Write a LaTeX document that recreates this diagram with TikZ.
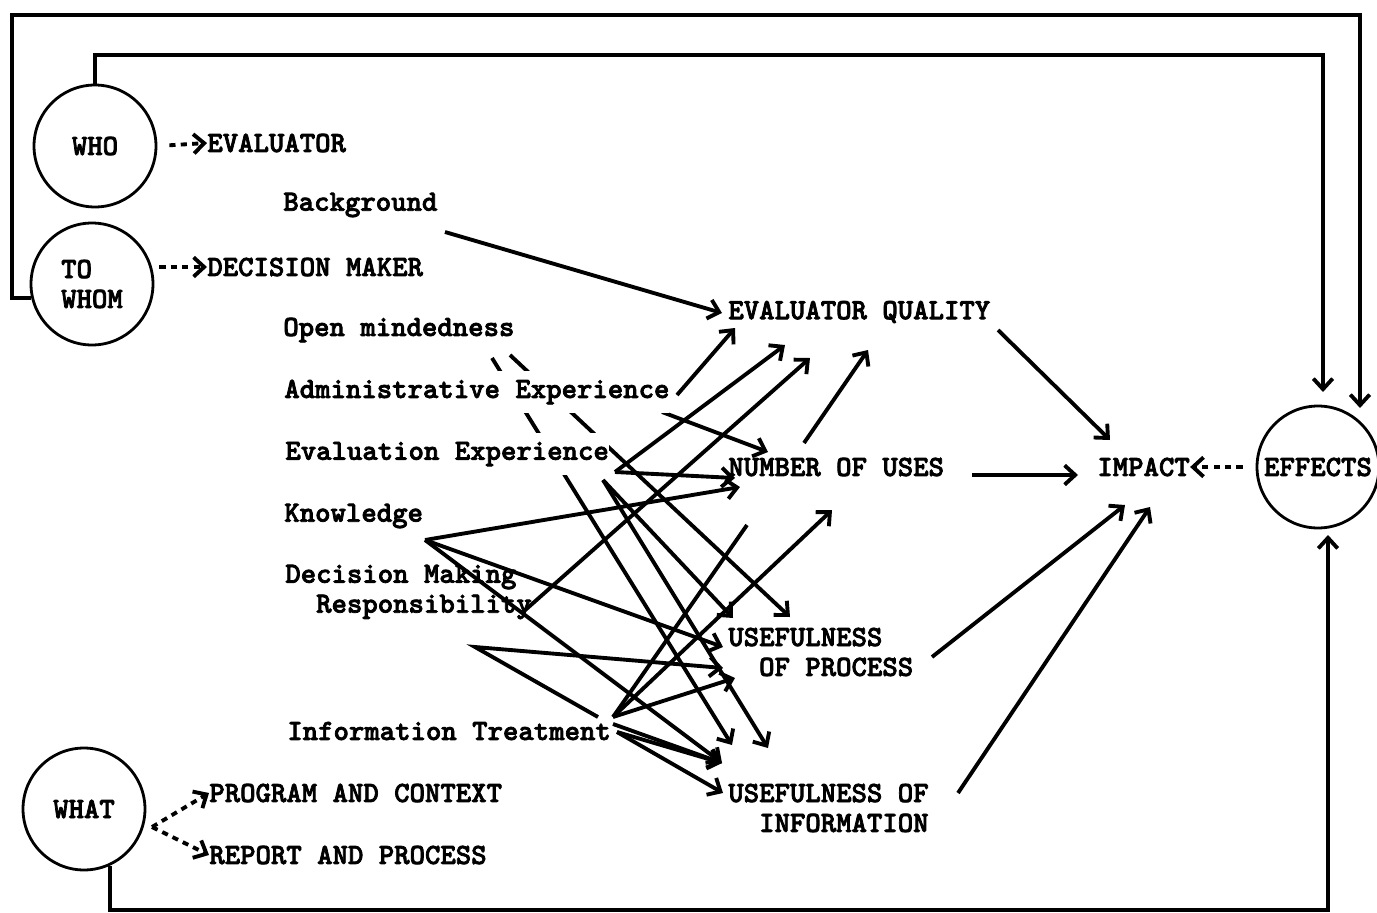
\documentclass[tikz,border=0pt]{standalone}
\usepackage{fontspec}
\newfontfamily\typewr{lmmonolt10-bold.otf}[FakeBold=2.5]
\usetikzlibrary{arrows.meta,backgrounds}

\begin{document}
\begin{tikzpicture}[
    x=0.02cm, y=-0.02cm,
    font=\typewr\fontsize{16.7}{17}\selectfont,
    lbl/.style={anchor=west, inner xsep=0pt, inner ysep=2pt, align=left},
    mask/.style={lbl, fill=white, inner ysep=5pt},
    ring/.style={draw, circle, line width=1.6pt, minimum size=2.44cm,
                 inner sep=0pt, align=left},
    arr/.style={-{Straight Barb[length=6pt,width=11pt]}, line width=2.2pt},
    link/.style={line width=2.2pt},
    dasharr/.style={arr, dash pattern=on 3.5pt off 3pt}
  ]
  \useasboundingbox (0,0) rectangle (1377,913);

  % who, to whom, what, effects
  \node[ring] (who) at (95,146) {WHO};
  \node[ring] (towhom) at (92,284) {TO\\WHOM};
  \node[ring] (what) at (84,809) {WHAT};
  \node[ring] (effects) at (1318,467) {EFFECTS};

  \node[lbl] (evaluator) at (207,143) {EVALUATOR};
  \node[lbl] (decmaker) at (207,267) {DECISION MAKER};
  \node[lbl] (program) at (209,793) {PROGRAM AND CONTEXT};
  \node[lbl] (report) at (209,855) {REPORT AND PROCESS};

  % traits
  \node[lbl] (backgr) at (283,205) {Background};
  \node[lbl] (openmind) at (283,330) {Open mindedness};
  \node[mask] (adminexp) at (284,392) {Administrative Experience};
  \node[mask] (evalexp) at (285,454) {Evaluation Experience};
  \node[lbl] (knowl) at (284,516) {Knowledge};
  \node[lbl] (decresp) at (285,592) {Decision Making\\\phantom{De}Responsibility};
  \node[lbl] (infotr) at (287,731) {Information Treatment};

  % outcomes
  \node[lbl] (evalq) at (728,312) {EVALUATOR QUALITY};
  \node[lbl] (numuses) at (728,467) {NUMBER OF USES};
  \node[lbl] (useproc) at (728,652) {USEFULNESS\\\phantom{US}OF PROCESS};
  \node[lbl] (useinfo) at (728,808) {USEFULNESS OF\\\phantom{US}INFORMATION};
  \node[lbl] (impact) at (1097,467) {IMPACT};

  % dashed links
  \draw[dasharr, shorten <=0.24cm] (who.east) -- (evaluator.west);
  \draw[dasharr, shorten <=0.1cm] (towhom.east |- decmaker.west) -- (decmaker.west);
  \coordinate (whatpt) at (152,827);
  \draw[dasharr] (whatpt) -- (program.west);
  \draw[dasharr] (whatpt) -- (report.west);
  \draw[dasharr, shorten <=0.26cm] (effects.west) -- (impact.east);

  % feedback loops
  \coordinate (fbouter) at (1360,408);
  \coordinate (fbinner) at (1323,392);
  \coordinate (fbbottom) at (1328,535);
  \draw[arr] (towhom.193) -| (12,15) -| (fbouter);
  \draw[arr] (who.north) -- (who.north |- 0,55) -| (fbinner);
  \draw[arr] (what.-65) |- (fbbottom |- 0,910) -- (fbbottom);

  % line ends
  \coordinate (bgout) at (445,232);
  \coordinate (om1) at (510,355);
  \coordinate (om2) at (492,358);
  \coordinate (ae1) at (677,395);
  \coordinate (ae2) at (662,412);
  \coordinate (ee1) at (615,472);
  \coordinate (ee2) at (603,480);
  \coordinate (kn) at (425,540);
  \coordinate (dmr) at (523,612);
  \coordinate (it0) at (598,717);
  \coordinate (bend) at (475,647);
  \coordinate (it1) at (613,717);
  \coordinate (it2) at (613,724);
  \coordinate (it3) at (617,732);
  \coordinate (eqA) at (722,313);
  \coordinate (eqB) at (735,328);
  \coordinate (eqC) at (785,345);
  \coordinate (eqD) at (868,350);
  \coordinate (eqE) at (810,358);
  \coordinate (nuA) at (768,452);
  \coordinate (nuB) at (735,478);
  \coordinate (nuC) at (740,487);
  \coordinate (nuD) at (832,510);
  \coordinate (nuE) at (747,525);
  \coordinate (upA) at (790,617);
  \coordinate (upB) at (733,618);
  \coordinate (upC) at (723,647);
  \coordinate (upD) at (723,668);
  \coordinate (upE) at (735,678);
  \coordinate (uiA) at (732,745);
  \coordinate (uiB) at (768,748);
  \coordinate (uiC) at (722,763);
  \coordinate (uiD) at (723,793);
  \coordinate (nuup) at (804,443);
  \coordinate (eqout) at (998,330);
  \coordinate (nuout) at (972,475);
  \coordinate (upout) at (932,657);
  \coordinate (uiout) at (958,793);
  \coordinate (impA) at (1110,440);
  \coordinate (impB) at (1078,475);
  \coordinate (impC) at (1125,505);
  \coordinate (impD) at (1150,507);

  \begin{scope}[on background layer]
    \foreach \a/\b in {bgout/eqA, ae1/eqB, ee1/eqC, dmr/eqE, nuup/eqD,
                       ae2/nuA, ee1/nuB, kn/nuC, it1/nuD,
                       om1/upA, ee2/upB, kn/upC, it1/upE,
                       om2/uiA, ee2/uiB, kn/uiC, it2/uiC, it3/uiC, it3/uiD,
                       eqout/impA, nuout/impB, upout/impC, uiout/impD}
      \draw[arr] (\a) -- (\b);
    \draw[link] (it1) -- (nuE);
    \draw[arr] (it0) -- (bend) -- (upD);
  \end{scope}
\end{tikzpicture}
\end{document}
